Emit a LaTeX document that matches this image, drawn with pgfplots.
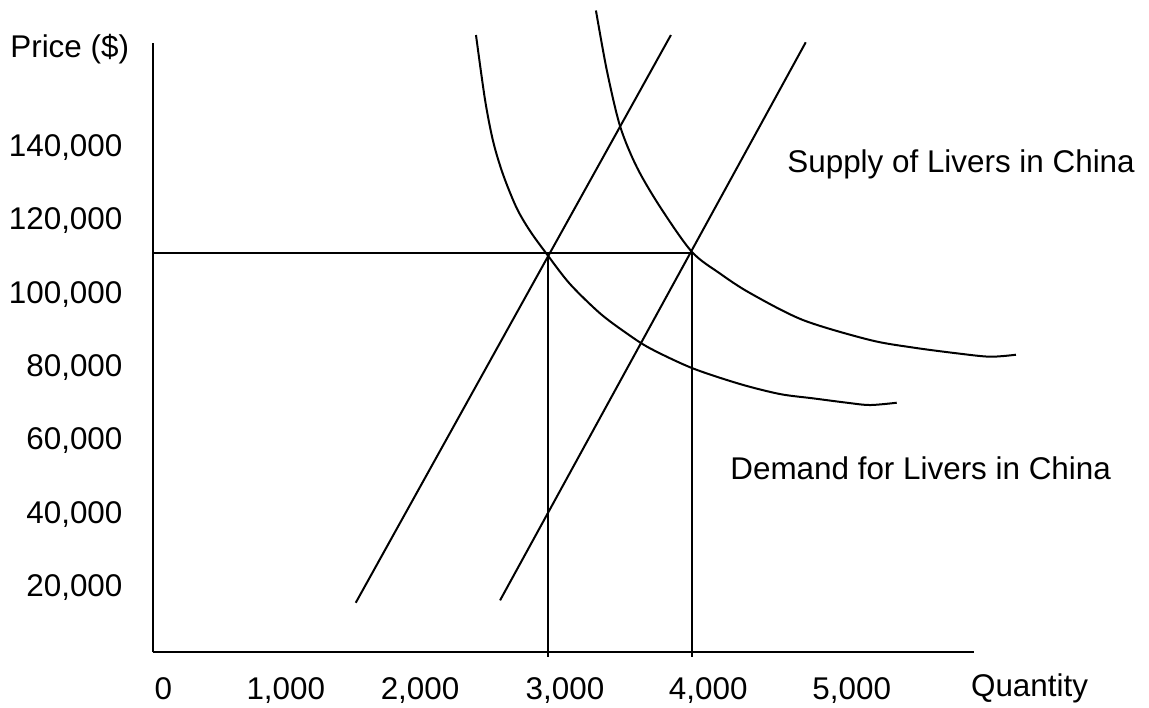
\documentclass[border=0pt]{standalone}
\usepackage{fontspec}
\setmainfont{Liberation Sans}
\usepackage{pgfplots}
\pgfplotsset{compat=1.18}
\newcommand\chartfont{\fontsize{15.7}{18.8}\selectfont}

\begin{document}
\begin{tikzpicture}[font=\chartfont]
% canvas of the reference: 1149 x 707 px at 0.5pt per px
\useasboundingbox (-76.65pt,-27.35pt) rectangle (497.85pt,326.15pt);
\begin{axis}[
    scale only axis,
    width=410.35pt, height=304.65pt,
    xmin=266, xmax=5958,
    ymin=2340, ymax=168500,
    axis lines=left,
    axis line style={-, line width=1.1pt},
    clip=false,
    scaled x ticks=false, scaled y ticks=false,
    xtick={336,1185,2116,3121,4115,5110},
    xticklabels={0,{1,000},{2,000},{3,000},{4,000},{5,000}},
    ytick={20000,40000,60000,80000,100000,120000,140000},
    yticklabels={{20,000},{40,000},{60,000},{80,000},{100,000},{120,000},{140,000}},
    major tick length=0pt,
    tick style={draw=none},
    xticklabel style={anchor=north, inner sep=0pt, yshift=-12.5pt, font=\chartfont},
    yticklabel style={anchor=east, inner sep=0pt, xshift=-15.25pt, font=\chartfont},
    curve/.style={black, solid, mark=none, line width=1pt},
]

% supply curves
\addplot[curve] coordinates {(1670,15850) (3856,170680)};
\addplot[curve] coordinates {(2671,16510) (4791,168690)};

% demand curves
\addplot[curve, smooth] coordinates {
    (2504,170680) (2567,152955) (2624,141500) (2693,132500) (2786,123500)
    (2879,117230) (3000,110680) (3156,102770) (3364,94780) (3549,89330)
    (3711,85240) (4002,79860) (4335,75500) (4612,72770) (4841,71600)
    (5077,70400) (5237,69770) (5422,70400)
};
\addplot[curve, smooth] coordinates {
    (3336,177360) (3411,161140) (3503,145860) (3619,134680) (3780,123850)
    (4000,111600) (4196,105640) (4404,100320) (4772,92950) (5237,87500)
    (5535,85450) (5840,83870) (6069,82950) (6249,83490)
};

% equilibrium guides
\addplot[curve] coordinates {(266,111300) (4000,111300)};
\addplot[curve] coordinates {(3000,1130) (3000,111300)};
\addplot[curve] coordinates {(4000,1130) (4000,111300)};

\node[anchor=base west, inner sep=0pt] at (axis cs:-728,164410) {Price (\$)};
\node[anchor=base west, inner sep=0pt] at (axis cs:5935,-9780) {Quantity};
\node[anchor=base west, inner sep=0pt] at (axis cs:4661,133320) {Supply of Livers in China};
\node[anchor=base west, inner sep=0pt] at (axis cs:4266,49590) {Demand for Livers in China};
\end{axis}
\end{tikzpicture}
\end{document}
